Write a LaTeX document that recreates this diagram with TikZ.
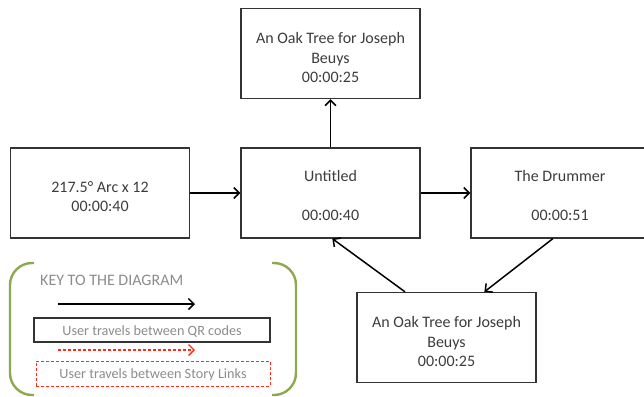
\documentclass[tikz,border=0pt]{standalone}
\usepackage{fontspec}
\setmainfont{Carlito}
\usetikzlibrary{arrows.meta,calc}
\definecolor{boxtext}{HTML}{3C3C3C}
\definecolor{keytext}{HTML}{8C8C8C}
\definecolor{keygreen}{HTML}{8DA94F}
\definecolor{keyred}{HTML}{FF2A1A}
\tikzset{
  stepbox/.style={draw=black!80, line width=1.3pt, minimum width=179pt, minimum height=90pt, inner sep=0pt},
  boxlabel/.style={inner sep=0pt, align=center, text=boxtext, font=\fontsize{16}{19.5}\selectfont},
  flow/.style={draw=black, line width=1.5pt, -{Straight Barb[length=5.5pt,width=11pt,line width=1.5pt]}},
  keyflow/.style={draw=black, line width=1.5pt, -{Straight Barb[length=5.5pt,width=11pt,line width=1.5pt]}},
  redflow/.style={draw=keyred, line width=1.3pt, dash pattern=on 3pt off 2pt, -{Straight Barb[length=5.5pt,width=11pt,line width=1.3pt]}},
  keybox/.style={draw=black!80, line width=1.3pt, minimum width=236pt, minimum height=24pt, inner sep=0pt},
  redbox/.style={draw=keyred, line width=1pt, dash pattern=on 3pt off 2pt, minimum width=234pt, minimum height=25pt, inner sep=0pt},
  keylabel/.style={inner sep=0pt, text=keytext, font=\fontsize{14.2}{16}\selectfont},
}
\begin{document}
\begin{tikzpicture}[x=1pt,y=-1pt]
\useasboundingbox (0,0) rectangle (644,396);
\clip (0,0) rectangle (644,396);
\node[stepbox] (left) at (100,193) {};
\node[stepbox] (top) at (330.5,53.5) {};
\node[stepbox] (mid) at (330.5,193) {};
\node[stepbox, minimum width=178pt] (drum) at (560,193) {};
\node[stepbox] (bot) at (446.5,337.5) {};
\node[boxlabel] (leftl) at ($(left.center)+(0,3.5)$) {217.5° Arc x 12\\00:00:40};
\node[boxlabel] (topl) at ($(top.center)+(0,4.5)$) {An Oak Tree for Joseph\\Beuys\\00:00:25};
\node[boxlabel] (midl) at ($(mid.center)+(0,3)$) {Untitled\\[19.5pt]00:00:40};
\node[boxlabel] (druml) at ($(drum.center)+(0,3)$) {The Drummer\\[19.5pt]00:00:51};
\node[boxlabel] (botl) at ($(bot.center)+(0,4.5)$) {An Oak Tree for Joseph\\Beuys\\00:00:25};
\draw[flow] (left) -- (mid);
\draw[flow] (mid) -- (top);
\draw[flow] (mid) -- (drum);
\draw[flow] ($(drum.south west)!0.46!(drum.south east)$) -- ($(bot.north west)!0.71!(bot.north east)$);
\draw[flow] ($(bot.north west)!0.27!(bot.north east)$) -- ($(mid.south west)!0.51!(mid.south east)$);
% key
\draw[keygreen, line width=2.4pt, rounded corners=22pt] (34,263) -- (10,263) -- (10,395) -- (34,395);
\draw[keygreen, line width=2.4pt, rounded corners=22pt] (272,263) -- (296,263) -- (296,395) -- (272,395);
\node[anchor=west, inner sep=0pt, text=keytext, font=\fontsize{16}{18}\selectfont] (keytitle) at (40,280.5) {KEY TO THE DIAGRAM};
\coordinate (ka) at (58,304);
\coordinate (kb) at (195,304);
\draw[keyflow] (ka) -- (kb);
\node[keybox] (qr) at (152,330) {};
\node[keylabel] (qrl) at ($(qr.center)+(0,1.5)$) {User travels between QR codes};
\coordinate (ra) at (58,350);
\coordinate (rb) at (195,350);
\draw[redflow] (ra) -- (rb);
\node[redbox] (story) at (153,373.5) {};
\node[keylabel] (storyl) at ($(story.center)+(0,1.5)$) {User travels between Story Links};
\end{tikzpicture}
\end{document}
